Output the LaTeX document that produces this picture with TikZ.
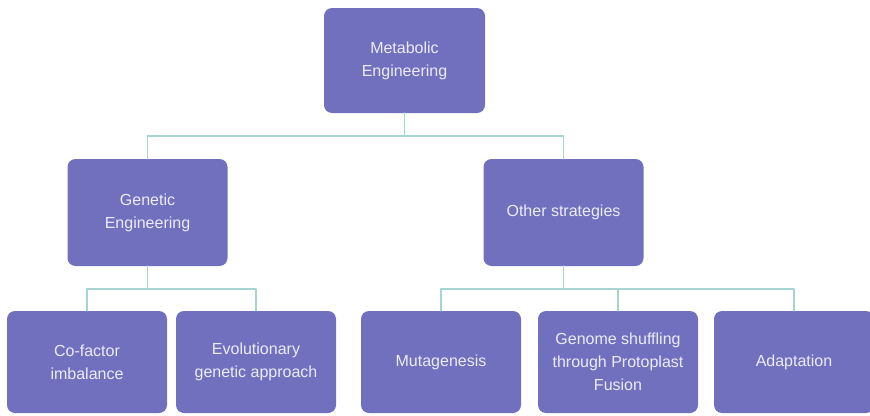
\documentclass[tikz,border=0pt]{standalone}
\usepackage{fontspec}
\setmainfont{Liberation Sans}
\usepackage{tikz}

\definecolor{boxfill}{RGB}{112,112,190}
\definecolor{boxtext}{RGB}{236,236,250}
\definecolor{linkcol}{RGB}{166,212,208}

\begin{document}
\begin{tikzpicture}[
                x=1pt,
                y=-1pt,
                line cap=round,
                line join=round,
                box/.style={
                    draw=none, fill=boxfill, rounded corners=8pt,
                    text=boxtext, align=center, inner sep=0pt,
                    minimum width=160pt, minimum height=104pt,
                    font=\fontsize{16}{23}\selectfont
                },
                leaf/.style={box, minimum height=102pt},
                link/.style={draw=linkcol, line width=1.5pt}
            ]

            \useasboundingbox (0,0) rectangle (870,415);

            % top level
            \node[box, minimum width=161pt, minimum height=105pt] (meta) at (404.5,60.5)
                {Metabolic\\Engineering};

            % second level
            \node[box, minimum height=107pt] (genetic) at (147.5,212.5)
                {Genetic\\Engineering};
            \node[box, minimum height=107pt] (other) at (563.5,212.5)
                {Other strategies};

            % leaves
            \node[leaf] (cofactor) at (87,362) {Co-factor\\imbalance};
            \node[leaf] (evol) at (256,362) {Evolutionary\\genetic approach};
            \node[leaf] (mutagen) at (441,362) {Mutagenesis};
            \node[leaf] (genome) at (618,362) {Genome shuffling\\through Protoplast\\Fusion};
            \node[leaf] (adapt) at (794,362) {Adaptation};

            \foreach \kid in {genetic,other} {
                \draw[link] (meta.south) -- ++(0,23) -| (\kid.north);
            }

            \foreach \kid in {cofactor,evol} {
                \draw[link] (genetic.south) -- ++(0,23) -| (\kid.north);
            }

            \foreach \kid in {mutagen,genome,adapt} {
                \draw[link] (other.south) -- ++(0,23) -| (\kid.north);
            }

        \end{tikzpicture}
\end{document}
